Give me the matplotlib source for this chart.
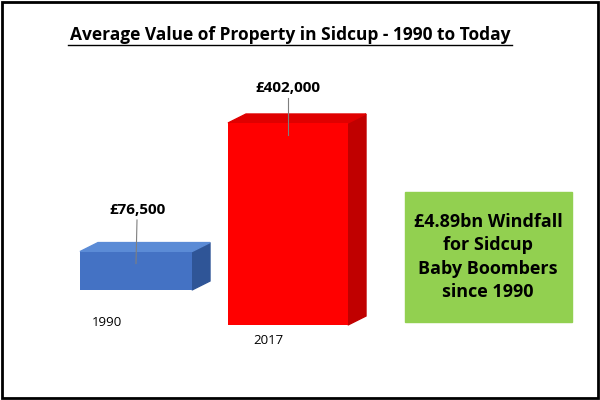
import matplotlib
matplotlib.use("Agg")
import matplotlib.pyplot as plt
from matplotlib.patches import Polygon, Rectangle

years = ["1990", "2017"]
values = [76500, 402000]
labels = ["£76,500", "£402,000"]
front_cols = ["#4472C4", "#FF0000"]
side_cols = ["#2F5597", "#C00000"]
top_cols = ["#5B8BD6", "#E00000"]

fig = plt.figure(figsize=(6, 4), dpi=100)
ax = fig.add_axes([0, 0, 1, 1])
k = 402000 / 202.0  # value units per pixel
ax.set_xlim(0, 600)
ax.set_ylim(0, 400 * k)
ax.axis("off")

lefts = [80, 228]
widths = [112, 120]
bottoms = [110 * k, 75 * k]
dx, dy = 18, 9 * k

bars = ax.bar(lefts, values, width=widths, bottom=bottoms, align="edge",
              color=front_cols, edgecolor="none", zorder=3)
for b, sc, tc in zip(bars, side_cols, top_cols):
    x0, y0, w, h = b.get_x(), b.get_y(), b.get_width(), b.get_height()
    ax.add_patch(Polygon([(x0 + w, y0), (x0 + w + dx, y0 + dy), (x0 + w + dx, y0 + h + dy), (x0 + w, y0 + h)],
                         closed=True, color=sc, zorder=2))
    ax.add_patch(Polygon([(x0, y0 + h), (x0 + dx, y0 + h + dy), (x0 + w + dx, y0 + h + dy), (x0 + w, y0 + h)],
                         closed=True, color=tc, zorder=2))

label_pos = [(137, 210), (288, 88)]
for b, lab, (lx, ly) in zip(bars, labels, label_pos):
    x0, y0, w, h = b.get_x(), b.get_y(), b.get_width(), b.get_height()
    ax.text(lx, (400 - ly) * k, lab, ha="center", va="center", fontsize=11,
            fontweight="bold", family="Open Sans", zorder=5)
    ax.plot([lx, x0 + w * 0.5], [(400 - ly - 10) * k, y0 + h - 12 * k], color="#7F7F7F", lw=0.8, zorder=6)

cat_pos = [(107, 322), (268, 340)]
for yr, (cx, cy) in zip(years, cat_pos):
    ax.text(cx, (400 - cy) * k, yr, ha="center", va="center", fontsize=9.5, family="Open Sans")

ax.text(290, (400 - 35) * k, "Average Value of Property in Sidcup - 1990 to Today", ha="center", va="center",
        fontsize=12.5, fontweight="bold", family="Open Sans")
ax.plot([68, 512], [(400 - 45) * k] * 2, color="black", lw=1)

ax.add_patch(Rectangle((405, (400 - 322) * k), 167, 130 * k, color="#92D050", zorder=3))
ax.text(488, (400 - 257) * k, "£4.89bn Windfall\nfor Sidcup\nBaby Boombers\nsince 1990", ha="center", va="center",
        fontsize=13, fontweight="bold", family="Open Sans", linespacing=1.4, zorder=4)

fig.patches.append(Rectangle((0.003, 0.004), 0.994, 0.992, transform=fig.transFigure,
                             fill=False, edgecolor="black", lw=2))
fig.savefig("out.png", dpi=100)
